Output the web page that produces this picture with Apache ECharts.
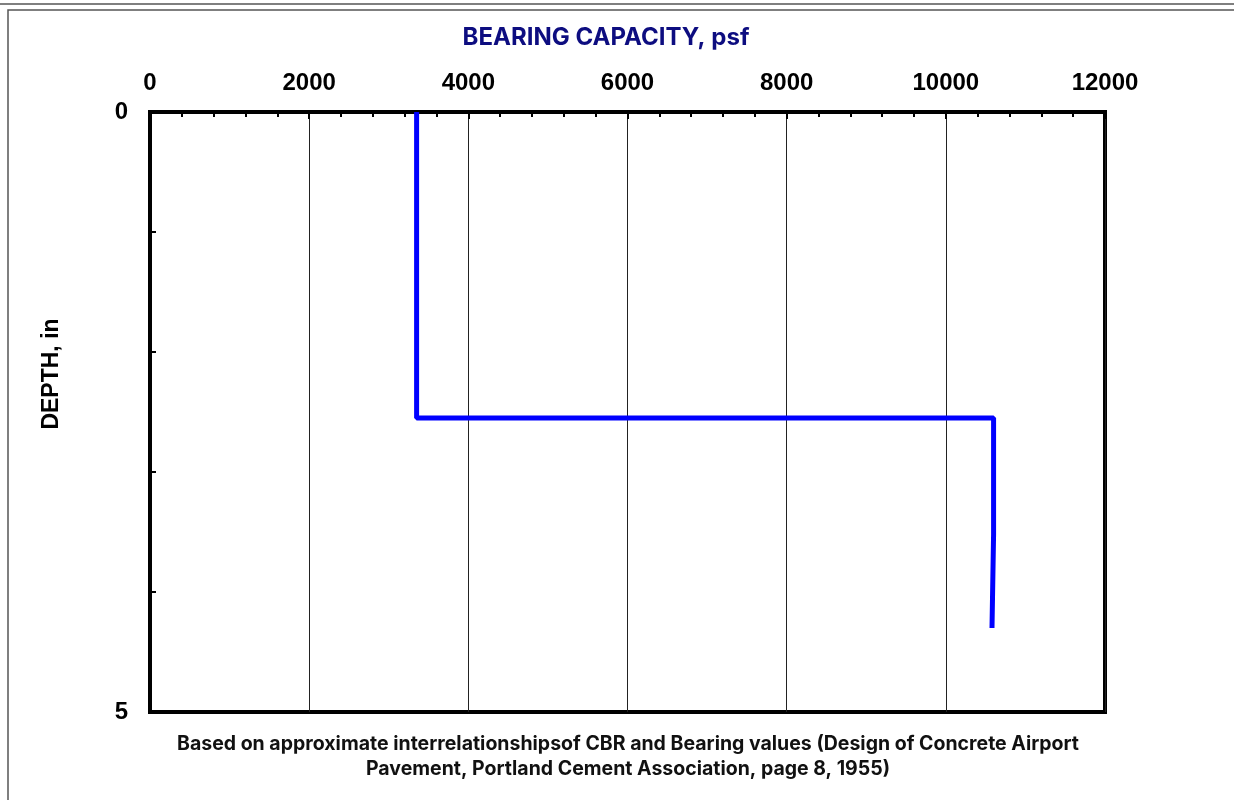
<!DOCTYPE html>
<html>
<head>
<meta charset="utf-8">
<script src="https://cdn.jsdelivr.net/npm/echarts@6/dist/echarts.min.js"></script>
<style>
  html, body { margin: 0; padding: 0; background: #fff; }
  #main { width: 1234px; height: 800px; }
</style>
</head>
<body>
<div id="main"></div>
<script>
// bearing capacity profile (psf) vs depth (in)
var bearing = [3350, 3350, 10600, 10600, 10580, 10580];
var depth = [0, 2.55, 2.55, 3.52, 3.52, 4.3];
var xTicks = [0, 2000, 4000, 6000, 8000, 10000, 12000];
var yLabels = [0, 5];

var chart = echarts.init(document.getElementById('main'));

var pts = [];
for (var i = 0; i < bearing.length; i++) {
    pts.push([bearing[i], depth[i]]);
}

var option = {
    animation: false,
    title: {
        text: 'BEARING CAPACITY, psf',
        left: 601,
        top: 21,
        textAlign: 'center',
        textStyle: { color: '#0d0d80', fontFamily: 'Inter', fontWeight: 'bold', fontSize: 24 }
    },
    graphic: [
        { type: 'rect', shape: { x: -2, y: -10, width: 1240, height: 14 }, style: { fill: 'none', stroke: '#555', lineWidth: 1.5 } },
        { type: 'rect', shape: { x: 8, y: 10, width: 1240, height: 800 }, style: { fill: 'none', stroke: '#555', lineWidth: 1.5 } },
        {
            type: 'text', x: 52, y: 374, rotation: Math.PI / 2,
            style: { text: 'DEPTH, in', fill: '#000', font: 'bold 23px "Liberation Sans", Arial', textAlign: 'center', textVerticalAlign: 'middle' }
        },
        {
            type: 'text', x: 628, y: 757,
            style: {
                text: 'Based on approximate interrelationshipsof CBR and Bearing values (Design of Concrete Airport\nPavement, Portland Cement Association, page 8, 1955)',
                fill: '#111', font: 'bold 19.5px Inter', textAlign: 'center', textVerticalAlign: 'middle', lineHeight: 25
            }
        }
    ],
    grid: {
        left: 150, top: 112, width: 955, height: 600,
        show: true, borderColor: '#000', borderWidth: 4, backgroundColor: '#fff'
    },
    xAxis: {
        type: 'value', position: 'top',
        min: xTicks[0], max: xTicks[xTicks.length - 1], interval: 2000,
        axisLine: { show: true, lineStyle: { color: '#000', width: 4 } },
        axisTick: { show: true, inside: true, length: 7, lineStyle: { color: '#000', width: 2 } },
        minorTick: { show: true, splitNumber: 5, length: 5, lineStyle: { color: '#000', width: 2 } },
        splitLine: { show: true, lineStyle: { color: '#222', width: 1 } },
        axisLabel: {
            margin: 17, color: '#000', fontFamily: 'Liberation Sans', fontWeight: 'bold', fontSize: 24,
            formatter: function (v) { return String(v); }
        }
    },
    yAxis: {
        type: 'value', inverse: true,
        min: 0, max: 5, interval: 1,
        axisLine: { show: true, lineStyle: { color: '#000', width: 4 } },
        axisTick: { show: true, inside: true, length: 6, lineStyle: { color: '#000', width: 2 } },
        splitLine: { show: false },
        axisLabel: {
            margin: 22, color: '#000', fontFamily: 'Liberation Sans', fontWeight: 'bold', fontSize: 24,
            formatter: function (v) { return yLabels.indexOf(v) >= 0 ? String(v) : ''; }
        }
    },
    series: [{
        type: 'line',
        data: pts,
        showSymbol: false,
        lineStyle: { color: '#0000ff', width: 5 },
        itemStyle: { color: '#0000ff' }
    }]
};

chart.setOption(option);
</script>
</body>
</html>
